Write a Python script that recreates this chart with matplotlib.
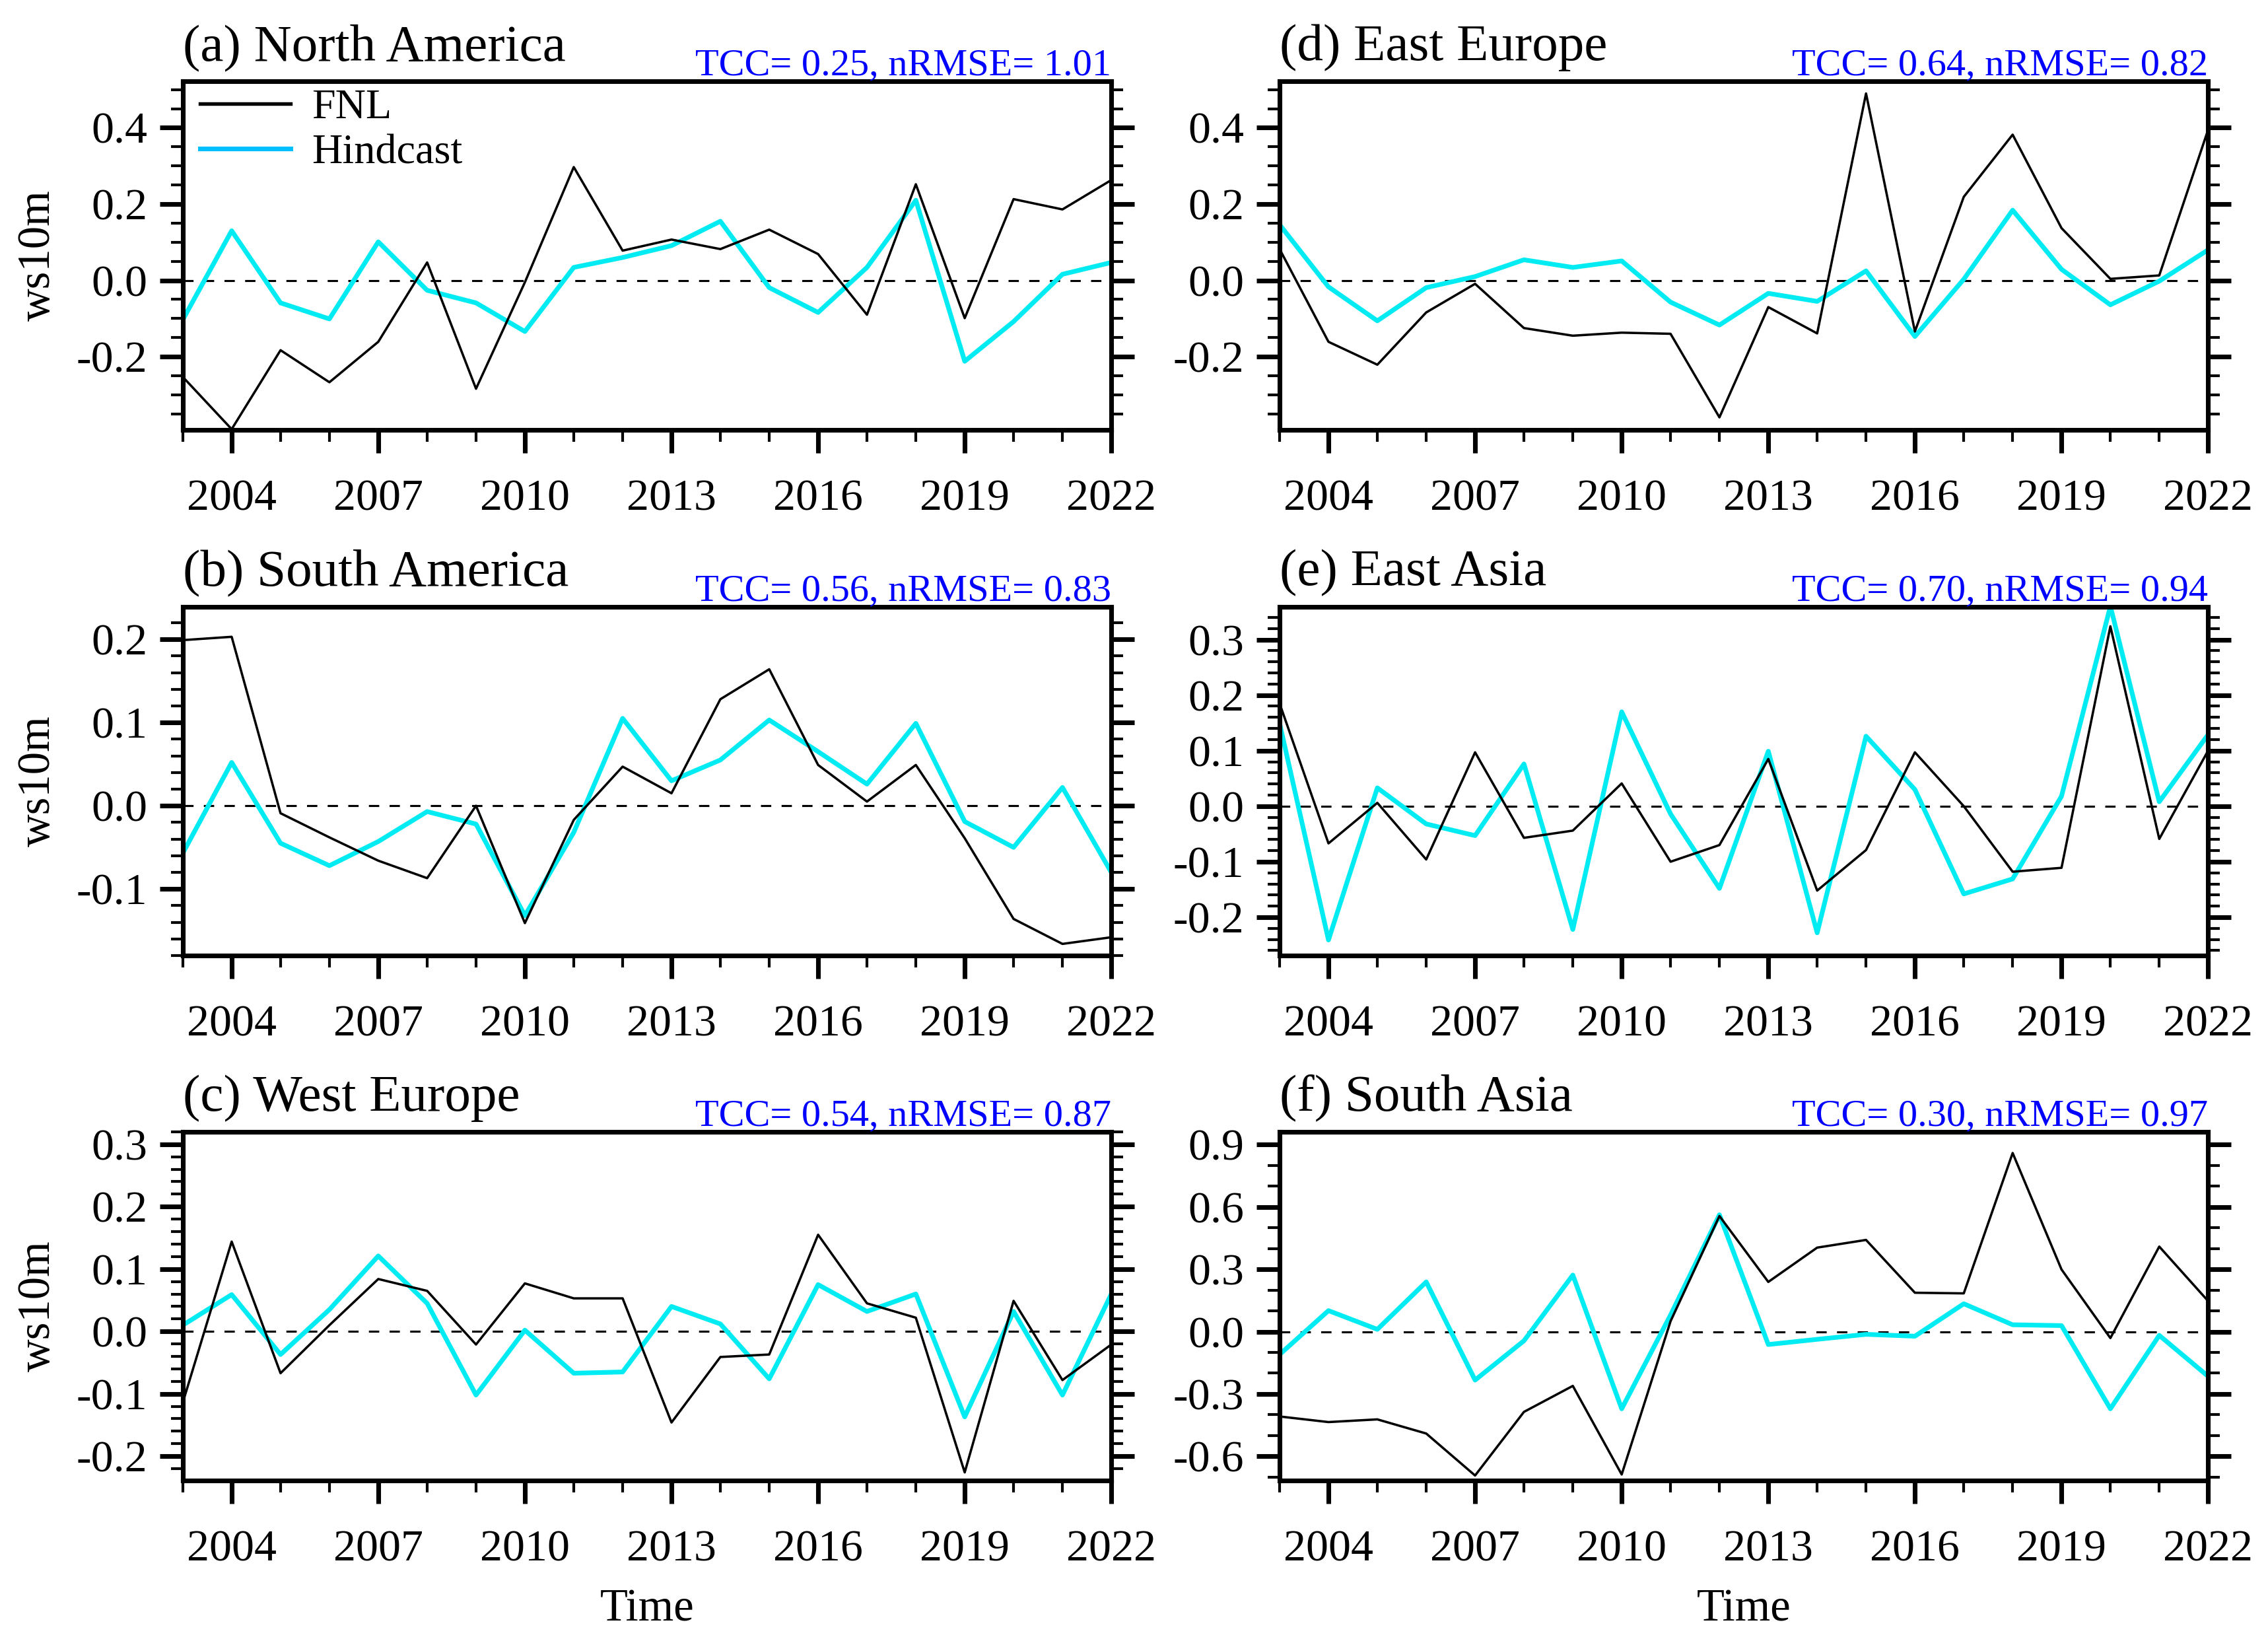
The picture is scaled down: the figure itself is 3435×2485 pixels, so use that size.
import numpy as np
import matplotlib
matplotlib.use("Agg")
import matplotlib.pyplot as plt
from matplotlib.lines import Line2D
from matplotlib.ticker import MultipleLocator, FormatStrFormatter

plt.rcParams["font.family"] = ["Liberation Serif", "DejaVu Serif"]
plt.rcParams["axes.unicode_minus"] = False

years = np.arange(2003, 2023)

# (a) North America
fnl_na = [-0.253, -0.39, -0.183, -0.267, -0.161, 0.047, -0.284, -0.005, 0.297, 0.078,
          0.107, 0.082, 0.133, 0.069, -0.09, 0.252, -0.099, 0.213, 0.186, 0.263]
hind_na = [-0.103, 0.130, -0.059, -0.101, 0.101, -0.026, -0.059, -0.134, 0.034, 0.060,
           0.091, 0.155, -0.019, -0.084, 0.034, 0.210, -0.212, -0.108, 0.016, 0.047]
# (b) South America
fnl_sa = [0.199, 0.203, -0.009, -0.038, -0.066, -0.087, 0.0, -0.141, -0.017, 0.047,
          0.015, 0.128, 0.164, 0.049, 0.005, 0.049, -0.039, -0.136, -0.166, -0.158]
hind_sa = [-0.057, 0.052, -0.045, -0.072, -0.043, -0.007, -0.022, -0.132, -0.032, 0.105,
           0.030, 0.055, 0.103, 0.065, 0.026, 0.099, -0.019, -0.050, 0.022, -0.080]
# (c) West Europe
fnl_we = [-0.114, 0.144, -0.067, 0.010, 0.084, 0.065, -0.021, 0.077, 0.053, 0.053,
          -0.146, -0.041, -0.037, 0.155, 0.045, 0.022, -0.226, 0.049, -0.078, -0.021]
hind_we = [0.010, 0.059, -0.037, 0.035, 0.121, 0.045, -0.102, 0.002, -0.067, -0.065,
           0.040, 0.012, -0.076, 0.075, 0.032, 0.060, -0.137, 0.032, -0.102, 0.060]
# (d) East Europe
fnl_ee = [0.082, -0.161, -0.221, -0.084, -0.009, -0.125, -0.145, -0.137, -0.140, -0.359,
          -0.070, -0.139, 0.490, -0.134, 0.219, 0.382, 0.137, 0.004, 0.013, 0.395]
hind_ee = [0.146, -0.017, -0.106, -0.019, 0.010, 0.054, 0.034, 0.051, -0.057, -0.117,
           -0.034, -0.055, 0.025, -0.147, 0.003, 0.184, 0.029, -0.064, -0.002, 0.080]
# (e) East Asia
fnl_ea = [0.185, -0.067, 0.006, -0.096, 0.097, -0.057, -0.044, 0.041, -0.100, -0.070,
          0.085, -0.152, -0.079, 0.097, 0.0, -0.118, -0.111, 0.324, -0.059, 0.100]
hind_ea = [0.149, -0.241, 0.033, -0.032, -0.053, 0.076, -0.222, 0.170, -0.014, -0.148,
           0.099, -0.228, 0.126, 0.030, -0.158, -0.131, 0.018, 0.360, 0.008, 0.129]
# (f) South Asia
fnl_sas = [-0.408, -0.435, -0.422, -0.490, -0.692, -0.386, -0.261, -0.687, 0.05, 0.556,
           0.239, 0.404, 0.441, 0.187, 0.184, 0.859, 0.299, -0.031, 0.409, 0.147]
hind_sas = [-0.110, 0.101, 0.011, 0.239, -0.233, -0.044, 0.272, -0.371, 0.08, 0.562,
            -0.062, -0.037, -0.013, -0.022, 0.134, 0.033, 0.029, -0.371, -0.018, -0.215]

titles = ["(a) North America", "(b) South America", "(c) West Europe",
          "(d) East Europe", "(e) East Asia", "(f) South Asia"]
tcc = [0.25, 0.56, 0.54, 0.64, 0.70, 0.30]
nrmse = [1.01, 0.83, 0.87, 0.82, 0.94, 0.97]
fnl_all = [fnl_na, fnl_sa, fnl_we, fnl_ee, fnl_ea, fnl_sas]
hind_all = [hind_na, hind_sa, hind_we, hind_ee, hind_ea, hind_sas]

# y range, major step, minor step
ylims = [(-0.392, 0.522), (-0.18, 0.239), (-0.239, 0.32),
         (-0.392, 0.522), (-0.269, 0.359), (-0.716, 0.961)]
ysteps = [(0.2, 0.05), (0.1, 0.02), (0.1, 0.02), (0.2, 0.05), (0.1, 0.02), (0.3, 0.1)]

cyan = "#00ECF2"
fig = plt.figure(figsize=(3435 / 300, 2485 / 300), dpi=300)

lefts = [0.0806, 0.5642]
bottoms = [0.738, 0.4177, 0.0978]
w, h = 0.4094, 0.2125

for i in range(6):
    col, row = i // 3, i % 3
    ax = fig.add_axes([lefts[col], bottoms[row], w, h])
    ax.plot(years, fnl_all[i], color="black", lw=0.85, zorder=3)
    ax.plot(years, hind_all[i], color=cyan, lw=1.7, zorder=2)
    ax.axhline(0, color="black", lw=0.75, dashes=(5, 5), zorder=1)
    ax.set_xlim(2003, 2022)
    ax.set_ylim(*ylims[i])
    ax.set_xticks(np.arange(2004, 2023, 3))
    ax.xaxis.set_minor_locator(MultipleLocator(1))
    ax.yaxis.set_major_locator(MultipleLocator(ysteps[i][0]))
    ax.yaxis.set_minor_locator(MultipleLocator(ysteps[i][1]))
    ax.yaxis.set_major_formatter(FormatStrFormatter("%.1f"))
    for s in ax.spines.values():
        s.set_linewidth(1.7)
    ax.tick_params(which="both", direction="out", top=False, right=True)
    ax.tick_params(which="major", length=8.4, width=1.7, labelsize=16.3)
    ax.tick_params(which="minor", length=4.4, width=1.0)
    ax.tick_params(axis="x", which="major", pad=9.5)
    ax.tick_params(axis="y", which="major", pad=4.5)

    ax.text(0, 1.061, titles[i], transform=ax.transAxes, ha="left", va="baseline",
            fontsize=19)
    ax.text(1, 1.019, "TCC= %.2f, nRMSE= %.2f" % (tcc[i], nrmse[i]),
            transform=ax.transAxes, ha="right", va="baseline", fontsize=14,
            color="#0000FF")
    if col == 0:
        ax.set_ylabel("ws10m", fontsize=16.5)
        ax.yaxis.set_label_coords(-0.133, 0.5)
    if row == 2:
        ax.set_xlabel("Time", fontsize=16.5)
        ax.xaxis.set_label_coords(0.5, -0.31)
    if i == 0:
        handles = [Line2D([], [], color="black", lw=1.3),
                   Line2D([], [], color="#00BFFF", lw=1.7)]
        ax.legend(handles, ["FNL", "Hindcast"], loc="upper left",
                  bbox_to_anchor=(0.0, 1.027), frameon=False, fontsize=15.4,
                  handlelength=2.15, handletextpad=0.5, labelspacing=0.15,
                  borderaxespad=0.0)

fig.savefig("out.png", dpi=300)
